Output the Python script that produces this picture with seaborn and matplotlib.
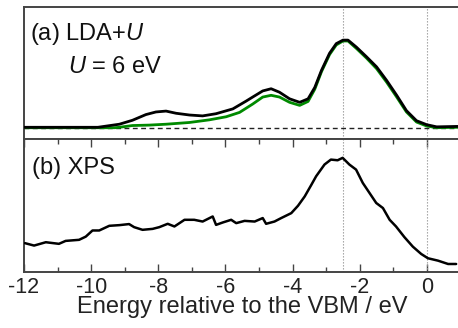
import numpy as np
import pandas as pd
import matplotlib
matplotlib.use("Agg")
import matplotlib.pyplot as plt
import seaborn as sns
from matplotlib.ticker import MultipleLocator

sns.set_style("white")
plt.rcParams['font.family'] = ['Liberation Sans', 'DejaVu Sans']
plt.rcParams['mathtext.fontset'] = 'custom'
plt.rcParams['mathtext.it'] = 'Liberation Sans:italic'
plt.rcParams['mathtext.rm'] = 'Liberation Sans'

# ---- data ----
lda_energy = [-12.0, -9.8, -9.16, -8.77, -8.37, -8.07, -7.77, -7.47, -7.07, -6.68,
              -6.28, -5.78, -5.58, -5.38, -5.19, -4.89, -4.64, -4.39, -4.09, -3.79,
              -3.54, -3.34, -3.14, -2.90, -2.70, -2.50, -2.35, -2.10, -1.80, -1.50,
              -1.20, -0.90, -0.61, -0.31, -0.01, 0.29, 0.92]
lda_total = [0.005, 0.005, 0.04, 0.085, 0.15, 0.18, 0.19, 0.165, 0.145, 0.135,
             0.16, 0.215, 0.26, 0.305, 0.35, 0.42, 0.445, 0.405, 0.33, 0.29,
             0.33, 0.46, 0.655, 0.85, 0.96, 1.0, 1.0, 0.92, 0.81, 0.695,
             0.54, 0.37, 0.195, 0.08, 0.035, 0.01, 0.015]
green_energy = [-12.0, -9.3, -9.16, -8.77, -8.27, -7.77, -7.07, -6.48, -5.98, -5.58,
                -5.19, -4.89, -4.64, -4.39, -4.09, -3.79, -3.54, -3.34, -3.14, -2.90,
                -2.70, -2.50, -2.35, -2.10, -1.80, -1.50, -1.20, -0.90, -0.61, -0.31,
                -0.01, 0.29, 0.92]
lda_partial = [0.0, 0.0, 0.005, 0.025, 0.03, 0.04, 0.06, 0.09, 0.125, 0.175,
               0.27, 0.35, 0.37, 0.35, 0.29, 0.255, 0.30, 0.44, 0.64, 0.835,
               0.945, 0.99, 0.99, 0.905, 0.795, 0.675, 0.52, 0.35, 0.18, 0.065,
               0.02, 0.0, 0.005]

xps_energy = [-11.97, -11.7, -11.35, -10.96, -10.76, -10.36, -10.16, -9.96, -9.76, -9.46,
              -9.16, -8.87, -8.72, -8.47, -8.17, -7.97, -7.72, -7.52, -7.22, -6.93,
              -6.68, -6.38, -6.28, -6.08, -5.83, -5.68, -5.43, -5.13, -4.89, -4.79,
              -4.54, -4.34, -4.04, -3.84, -3.64, -3.44, -3.30, -3.05, -2.86, -2.66,
              -2.51, -2.31, -2.11, -1.91, -1.71, -1.51, -1.31, -1.11, -0.92, -0.67,
              -0.42, -0.17, 0.03, 0.33, 0.63, 0.87]
xps_intensity = [0.216, 0.198, 0.223, 0.211, 0.233, 0.241, 0.265, 0.311, 0.311, 0.346,
                 0.351, 0.359, 0.336, 0.316, 0.323, 0.336, 0.361, 0.341, 0.391, 0.391,
                 0.378, 0.416, 0.353, 0.371, 0.391, 0.366, 0.383, 0.378, 0.404, 0.361,
                 0.378, 0.404, 0.441, 0.496, 0.566, 0.654, 0.717, 0.805, 0.842, 0.837,
                 0.855, 0.805, 0.767, 0.667, 0.592, 0.517, 0.479, 0.391, 0.341, 0.261,
                 0.190, 0.135, 0.103, 0.085, 0.060, 0.060]

ref_lines = [-2.5, 0.0]
xticks = [-12, -10, -8, -6, -4, -2, 0]
xtick_labels = ["-12", "-10", "-8", "-6", "-4", "-2", "0"]

df_tot = pd.DataFrame({"E": lda_energy, "D": lda_total})
df_par = pd.DataFrame({"E": green_energy, "D": lda_partial})
df_xps = pd.DataFrame({"E": xps_energy, "I": xps_intensity})

# ---- figure ----
W, H = 458, 328
fig = plt.figure(figsize=(W / 100, H / 100), dpi=100)
left = 24 / W
width = (460.5 - 24) / W
ax_a = fig.add_axes([left, (H - 138.5) / H, width, (138.5 - 7) / H])
ax_b = fig.add_axes([left, (H - 272) / H, width, (272 - 138.5) / H], sharex=ax_a)

spine_col = "#444444"
for ax in (ax_a, ax_b):
    for s in ax.spines.values():
        s.set_color(spine_col)
        s.set_linewidth(1.4)
    ax.set_yticks([])
    for xv in ref_lines:
        ax.axvline(xv, color="#999999", lw=0.8, ls=(0, (1.2, 1.5)), zorder=1)

# panel (a)
ax_a.axhline(0, color="#222222", lw=1.0, ls=(0, (3.5, 2.5)), zorder=1)
sns.lineplot(data=df_par, x="E", y="D", ax=ax_a, color="#008a00", lw=2.0, zorder=2)
sns.lineplot(data=df_tot, x="E", y="D", ax=ax_a, color="black", lw=2.0, zorder=3)
ax_a.set_ylim(-0.123, 1.378)
ax_a.tick_params(axis="x", which="both", bottom=False, top=False, labelbottom=False)
ax_a.set_xlabel("")
ax_a.set_ylabel("")

# panel (b)
sns.lineplot(data=df_xps, x="E", y="I", ax=ax_b, color="black", lw=1.8, zorder=3)
ax_b.set_ylim(0, 1.0)
ax_b.set_xlim(-12, 1.0)
ax_b.set_xticks(xticks)
ax_b.set_xticklabels(xtick_labels)
ax_b.xaxis.set_minor_locator(MultipleLocator(1))
ax_b.tick_params(axis="x", which="major", direction="in", length=6, width=1.0,
                 top=True, bottom=True, color=spine_col, labelsize=15.5,
                 labelcolor="#222222", pad=3.5)
ax_b.tick_params(axis="x", which="minor", direction="in", length=3.5, width=1.0,
                 top=True, bottom=True, color=spine_col)
ax_b.set_ylabel("")
ax_b.set_xlabel("Energy relative to the VBM / eV", fontsize=17, color="#222222",
                labelpad=-1)

# annotations
fig.text(30.5 / W, (H - 40) / H, r"(a) LDA+$\mathit{U}$", fontsize=17,
         va="baseline", ha="left", color="#111111")
fig.text(68 / W, (H - 72.7) / H, r"$\mathit{U}$ = 6 eV", fontsize=17,
         va="baseline", ha="left", color="#111111")
fig.text(32 / W, (H - 174) / H, "(b) XPS", fontsize=17,
         va="baseline", ha="left", color="#111111")

fig.savefig("out.png", dpi=100)
